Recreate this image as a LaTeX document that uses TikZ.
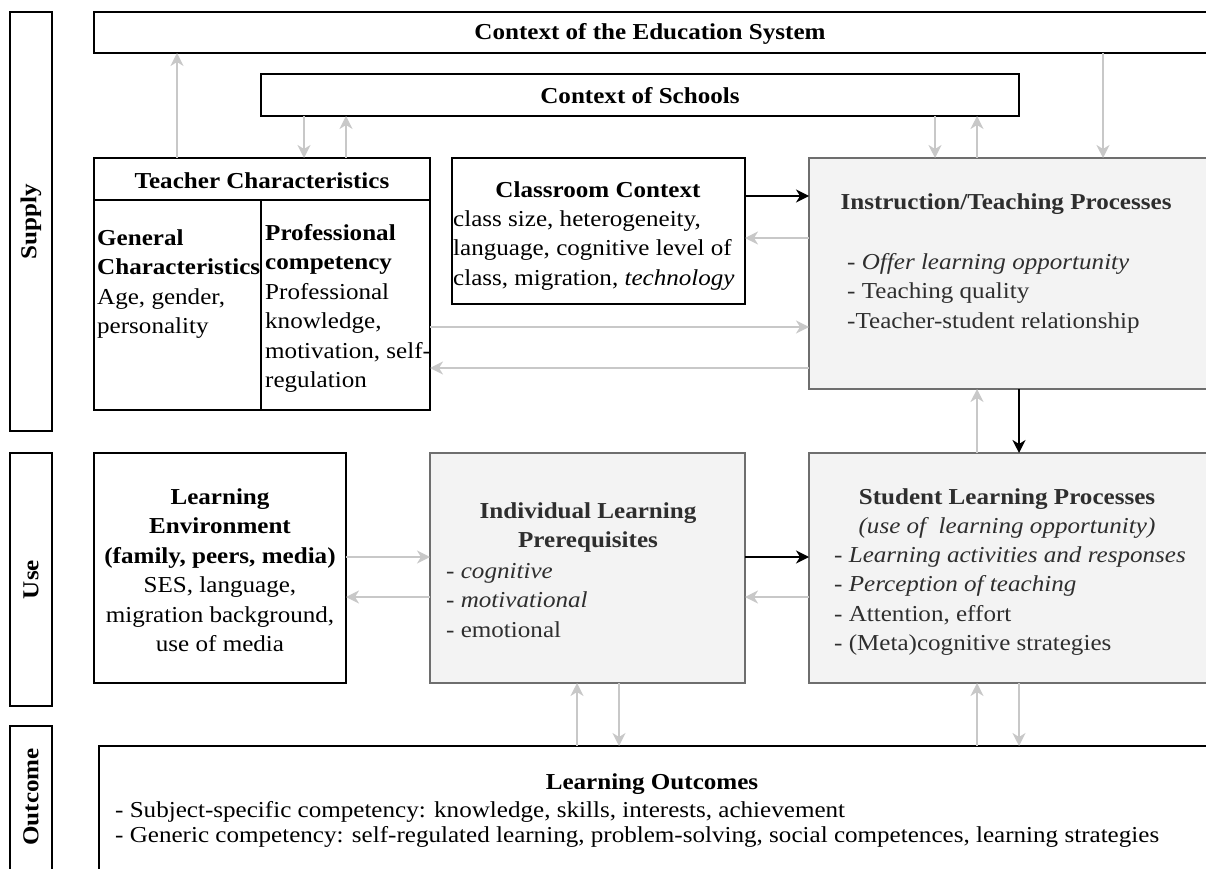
\documentclass[tikz,border=0pt]{standalone}
\usepackage{fontspec}
\setmainfont{Liberation Serif}[FakeStretch=1.1]
\usetikzlibrary{arrows.meta}
\definecolor{arrgray}{HTML}{C8C8C8}
\definecolor{boxgray}{HTML}{6E6E6E}
\definecolor{boxfill}{HTML}{F3F3F3}
\definecolor{darktxt}{HTML}{2E2E2E}
\newcommand\fs{\fontsize{22.8pt}{29.5pt}\selectfont}
\tikzset{
  bbox/.style={draw=black, line width=1.8pt, fill=white, inner sep=0pt, outer sep=0pt, anchor=north west},
  gbox/.style={draw=boxgray, line width=1.8pt, fill=boxfill, inner sep=0pt, outer sep=0pt, anchor=north west},
  garr/.style={draw=arrgray, line width=1.8pt, -{Stealth[length=13pt,width=13pt,inset=4pt]}},
  barr/.style={draw=black, line width=1.8pt, -{Stealth[length=13pt,width=13pt,inset=4pt]}},
  txt/.style={inner sep=0pt, font=\fs, align=left},
  btxt/.style={inner sep=0pt, font=\fs\bfseries, align=center}
}
\begin{document}
\begin{tikzpicture}[x=1pt,y=-1pt]
\useasboundingbox (0,0) rectangle (1206,869);
\clip (0,0) rectangle (1206,869);
% side labels
\node[bbox, minimum width=42pt, minimum height=419pt] (supply) at (10,12) {};
\node[bbox, minimum width=42pt, minimum height=253pt] (use) at (10,453) {};
\node[bbox, minimum width=42pt, minimum height=160pt] (outcome) at (10,726) {};
\node[btxt, rotate=90] (supplyT) at (supply.center) {Supply};
\node[btxt, rotate=90] (useT) at (use.center) {Use};
\node[btxt, rotate=90] (outcomeT) at (31,797) {Outcome};
% boxes
\node[bbox, minimum width=1130pt, minimum height=41pt] (edu) at (94,12) {};
\node[bbox, minimum width=758pt, minimum height=42pt] (schools) at (261,74) {};
\node[bbox, minimum width=336pt, minimum height=252pt] (teacher) at (94,158) {};
\draw[black, line width=1.8pt] (teacher.west |- 0,200) -- (teacher.east |- 0,200);
\draw[black, line width=1.8pt] (teacher.south -| 261,0) -- (261,200);
\node[bbox, minimum width=293pt, minimum height=146pt] (classroom) at (452,158) {};
\node[gbox, minimum width=420pt, minimum height=231pt] (instr) at (809,158) {};
\node[bbox, minimum width=252pt, minimum height=230pt] (learnenv) at (94,453) {};
\node[gbox, minimum width=315pt, minimum height=230pt] (indiv) at (430,453) {};
\node[gbox, minimum width=420pt, minimum height=230pt] (student) at (809,453) {};
\node[bbox, minimum width=1130pt, minimum height=150pt] (outcomes) at (99,746) {};
% texts (multi-line nodes are placed by the baseline of their last line)
\node[btxt, anchor=base] (eduT) at (650,40) {Context of the Education System};
\node[btxt, anchor=base] (schT) at (640,104) {Context of Schools};
\node[btxt, anchor=base] (teachT) at (262,189) {Teacher Characteristics};
\node[txt, anchor=base west] (genT) at (97,333.5) {\textbf{General}\\\textbf{Characteristics}\\Age, gender,\\personality};
\node[txt, anchor=base west] (profT) at (265,387.5) {\textbf{Professional}\\\textbf{competency}\\Professional\\knowledge,\\motivation, self-\\regulation};
\node[btxt, anchor=base] (classT) at (598,197) {Classroom Context};
\node[txt, anchor=base west] (classB) at (453,285) {class size, heterogeneity,\\language, cognitive level of\\class, migration, \textit{technology}};
\node[btxt, anchor=base, text=darktxt] (instrT) at (1006,209) {Instruction/Teaching Processes};
\node[txt, anchor=base west, text=darktxt] (instrB) at (847,328) {- \textit{Offer learning opportunity}\\- Teaching quality\\-Teacher-student relationship};
\node[txt, anchor=base, align=center] (envT) at (220,651.5) {\textbf{Learning}\\\textbf{Environment}\\\textbf{(family, peers, media)}\\SES, language,\\migration background,\\use of media};
\node[btxt, anchor=base, text=darktxt] (indT) at (588,547.5) {Individual Learning\\Prerequisites};
\node[txt, anchor=base west, text=darktxt] (indB) at (446,637) {- \textit{cognitive}\\- \textit{motivational}\\- emotional};
\node[txt, anchor=base, align=center, text=darktxt] (stuT) at (1007,533.5) {\textbf{Student Learning Processes}\\\textit{(use of\ \ learning opportunity)}};
\node[txt, anchor=base west, text=darktxt] (stuB) at (834,650.5) {- \textit{Learning activities and responses}\\- \textit{Perception of teaching}\\- Attention, effort\\- (Meta)cognitive strategies};
\node[btxt, anchor=base] (outT) at (652,789) {Learning Outcomes};
\node[txt, anchor=base west] (outB) at (115,842) {- Subject-specific competency: knowledge, skills, interests, achievement\\[-4.5pt]- Generic competency: self-regulated learning, problem-solving, social competences, learning strategies};
% helper coordinates
\coordinate (xa) at (177,0);
\coordinate (xb) at (304,0);
\coordinate (xc) at (346,0);
\coordinate (xd) at (935,0);
\coordinate (xe) at (977,0);
\coordinate (xf) at (1103,0);
\coordinate (xg) at (1019,0);
\coordinate (xh) at (577,0);
\coordinate (xi) at (619,0);
\coordinate (ya) at (0,196);
\coordinate (yb) at (0,238);
\coordinate (yc) at (0,327);
\coordinate (yd) at (0,368);
\coordinate (ye) at (0,557);
\coordinate (yf) at (0,597);
% connectors
\draw[garr] (teacher.north -| xa) -- (edu.south -| xa);
\draw[garr] (schools.south -| xb) -- (teacher.north -| xb);
\draw[garr] (teacher.north -| xc) -- (schools.south -| xc);
\draw[garr] (schools.south -| xd) -- (instr.north -| xd);
\draw[garr] (instr.north -| xe) -- (schools.south -| xe);
\draw[garr] (edu.south -| xf) -- (instr.north -| xf);
\draw[barr] (classroom.east |- ya) -- (instr.west |- ya);
\draw[garr] (instr.west |- yb) -- (classroom.east |- yb);
\draw[garr] (teacher.east |- yc) -- (instr.west |- yc);
\draw[garr] (instr.west |- yd) -- (teacher.east |- yd);
\draw[barr] (instr.south -| xg) -- (student.north -| xg);
\draw[garr] (student.north -| xe) -- (instr.south -| xe);
\draw[garr] (learnenv.east |- ye) -- (indiv.west |- ye);
\draw[garr] (indiv.west |- yf) -- (learnenv.east |- yf);
\draw[barr] (indiv.east |- ye) -- (student.west |- ye);
\draw[garr] (student.west |- yf) -- (indiv.east |- yf);
\draw[garr] (outcomes.north -| xh) -- (indiv.south -| xh);
\draw[garr] (indiv.south -| xi) -- (outcomes.north -| xi);
\draw[garr] (outcomes.north -| xe) -- (student.south -| xe);
\draw[garr] (student.south -| xg) -- (outcomes.north -| xg);
\end{tikzpicture}
\end{document}
